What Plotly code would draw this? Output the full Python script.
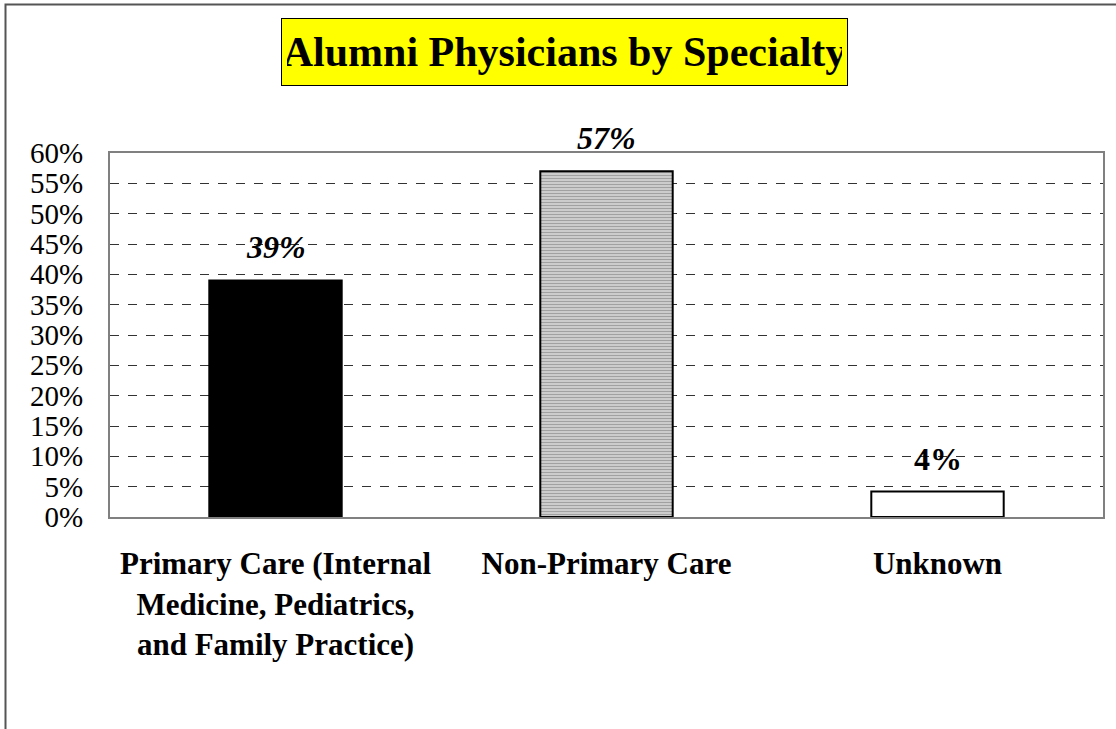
import plotly.graph_objects as go

categories = ["Primary Care (Internal<br>Medicine, Pediatrics,<br>and Family Practice)",
              "Non-Primary Care", "Unknown"]
values = [39, 57, 4.2]
value_labels = ["<b><i>39%</i></b>", "<b><i>57%</i></b>", "<b>4%</b>"]
y_ticks = list(range(0, 61, 5))
y_tick_labels = [f"{v}%" for v in y_ticks]

SERIF = "Liberation Serif"

fig = go.Figure()
fig.add_trace(go.Bar(
    x=categories, y=values, width=0.4,
    marker=dict(
        color=["black", "white", "white"],
        line=dict(color="black", width=2),
        pattern=dict(shape=["", "-", ""], fgcolor="black", bgcolor="white",
                     size=3, solidity=0.7),
    ),
    showlegend=False, hoverinfo="skip",
))

for c, v, t in zip(categories, values, value_labels):
    fig.add_annotation(x=c, y=v, text=t, showarrow=False, yanchor="bottom",
                       yshift=13, font=dict(family=SERIF, size=32, color="black"))

fig.add_annotation(xref="paper", yref="paper", x=(564.5 - 110) / 993, y=(517 - 52) / 364,
                   text="<b>Alumni Physicians by Specialty</b>", showarrow=False,
                   xanchor="center", yanchor="middle", width=555, height=56,
                   font=dict(family=SERIF, size=42, color="black"),
                   bgcolor="#FFFF00", bordercolor="black", borderwidth=1, borderpad=5)

# outer chart frame (top and left visible)
fig.add_shape(type="rect", xref="paper", yref="paper",
              x0=(5.5 - 110) / 993, x1=1.2, y0=-1.0, y1=(517 - 4.5) / 364,
              line=dict(color="#555555", width=2), fillcolor="rgba(0,0,0,0)", layer="below")

fig.update_layout(
    width=1116, height=729,
    margin=dict(l=110, r=13, t=153, b=212),
    paper_bgcolor="white", plot_bgcolor="white",
    font=dict(family=SERIF, color="black"),
    bargap=0.6,
    xaxis=dict(showline=True, linecolor="#808080", linewidth=2, mirror=True,
               showgrid=False, ticks="", ticklabelstandoff=18,
               tickfont=dict(family=SERIF, size=31, color="black", weight="bold")),
    yaxis=dict(range=[0, 60], tickvals=y_ticks, ticktext=y_tick_labels,
               showline=True, linecolor="#808080", linewidth=2, mirror=True,
               showgrid=True, gridcolor="#333333", gridwidth=1, griddash="dash",
               zeroline=False, ticks="", ticklabelstandoff=19,
               tickfont=dict(family=SERIF, size=29, color="black")),
)

fig.write_html("out.html", config={"displayModeBar": False},
               post_script="document.body.style.margin='0';document.body.style.padding='0';")
